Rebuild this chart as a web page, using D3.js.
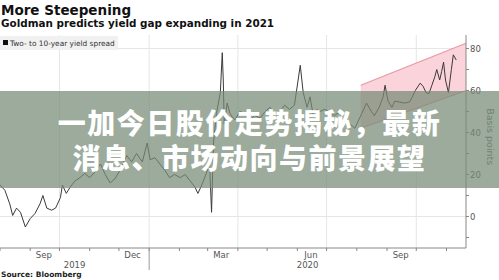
<!DOCTYPE html>
<html>
<head>
<meta charset="utf-8">
<script src="https://cdn.jsdelivr.net/npm/d3@7"></script>
<style>
  html, body { margin: 0; padding: 0; background: #fff; }
  svg { display: block; }
</style>
</head>
<body>
<div id="chart"></div>
<script>
// two- to ten-year spread, basis points
var dates = [
  "2019-08-01","2019-08-06","2019-08-11","2019-08-14","2019-08-18","2019-08-22","2019-08-27",
  "2019-09-01","2019-09-06","2019-09-11","2019-09-14","2019-09-18","2019-09-23","2019-09-27",
  "2019-10-02","2019-10-04","2019-10-08","2019-10-12","2019-10-17","2019-10-22","2019-10-27",
  "2019-11-01","2019-11-06","2019-11-12","2019-11-17","2019-11-22","2019-11-27",
  "2019-12-02","2019-12-09","2019-12-14","2019-12-19","2019-12-25","2019-12-30",
  "2020-01-02","2020-01-07","2020-01-12","2020-01-17","2020-01-22","2020-01-27",
  "2020-02-02","2020-02-07","2020-02-12","2020-02-17","2020-02-20","2020-02-23","2020-02-27",
  "2020-03-03","2020-03-05","2020-03-07","2020-03-10","2020-03-14","2020-03-16","2020-03-17","2020-03-18",
  "2020-03-21","2020-03-24","2020-03-27","2020-03-29",
  "2020-04-03","2020-04-08","2020-04-13","2020-04-18","2020-04-24","2020-04-29",
  "2020-05-04","2020-05-09","2020-05-14","2020-05-19","2020-05-24","2020-05-29",
  "2020-06-04","2020-06-07","2020-06-11","2020-06-14","2020-06-17","2020-06-21","2020-06-24","2020-06-29",
  "2020-07-04","2020-07-09","2020-07-15","2020-07-20","2020-07-25","2020-07-30",
  "2020-08-02","2020-08-06","2020-08-11","2020-08-16","2020-08-19","2020-08-24","2020-08-28","2020-08-30",
  "2020-09-02","2020-09-06","2020-09-09","2020-09-14","2020-09-19","2020-09-24","2020-09-27","2020-09-30",
  "2020-10-05","2020-10-08","2020-10-11","2020-10-14","2020-10-17","2020-10-20","2020-10-22","2020-10-25",
  "2020-10-27","2020-10-29","2020-10-31","2020-11-03","2020-11-06","2020-11-08","2020-11-11"
];
var spread = [
  15, 12.5, 6, 0.5, 4, 2, -5,
  -1, 1.5, 6, 10, 4, 3, 4,
  9, 15, 11, 14, 17, 18.5, 20.5,
  18.5, 21, 25, 20, 16, 18,
  22, 29, 26, 30, 26, 35,
  27, 28, 25, 22, 18.5, 20,
  18.5, 20, 17, 14, 11, 14, 18.5,
  25, 2, 35, 49, 59, 78, 65, 44,
  54, 49, 47, 46,
  50, 49, 46, 48, 47, 50,
  52, 49, 50, 53, 51, 53,
  72, 59, 52, 57, 49, 51, 50, 51,
  50, 48, 50, 49, 44, 42,
  45, 49, 54, 50, 48, 52, 57, 62.5,
  55, 52, 55, 54.5, 54, 54.5, 57, 60,
  63.5, 62, 59, 58.5, 62.5, 66.5, 70, 65,
  69, 73.5, 65, 59, 70, 77, 74.5
];

// Goldman's projected channel
var channelDates = ["2020-08-05", "2020-11-21"];
var channelUpper = [62.5, 82.5];
var channelLower = [42, 60];

var yTicks = [0, 20, 40, 60, 80];
var yMinor = [-10, 10, 30, 50, 70];
var monthLabels = ["2019-09-15", "2019-12-15", "2020-03-15", "2020-06-15", "2020-09-15"];
var yearLabels = ["2019", "2020"];

var width = 499, height = 280;
var plotLeft = 0, plotRight = 466, plotTop = 35, plotBottom = 248;
var parse = d3.timeParse("%Y-%m-%d");

var svg = d3.select("#chart").append("svg")
    .attr("width", width)
    .attr("height", height)
    .style("font-family", "'DejaVu Sans', Verdana, sans-serif");

var x = d3.scaleTime()
    .domain([parse("2019-08-01"), parse("2020-11-21")])
    .range([plotLeft, plotRight]);
var y = d3.scaleLinear()
    .domain([0, 80])
    .range([216.5, 48.5]);

// titles
svg.append("text").attr("x", 1).attr("y", 15)
    .style("font-size", "13.5px").style("font-weight", "bold").attr("fill", "#111")
    .text("More Steepening");
svg.append("text").attr("x", 1).attr("y", 27)
    .style("font-size", "10.4px").style("font-weight", "bold").attr("fill", "#111")
    .text("Goldman predicts yield gap expanding in 2021");

// grid
var grid = svg.append("g");
grid.selectAll("line.h")
    .data([0, 80])
    .enter().append("line")
    .attr("x1", plotLeft).attr("x2", plotRight)
    .attr("y1", d => y(d)).attr("y2", d => y(d))
    .style("stroke", "#e6e6e6").style("stroke-width", 1);
grid.selectAll("line.v")
    .data(d3.timeMonths(x.domain()[0], x.domain()[1]).filter(d => d.getMonth() % 3 == 0))
    .enter().append("line")
    .attr("x1", d => x(d)).attr("x2", d => x(d))
    .attr("y1", plotTop).attr("y2", plotBottom)
    .style("stroke", "#e6e6e6").style("stroke-width", 1);

// legend
svg.append("rect").attr("x", 0).attr("y", 36).attr("width", 118).attr("height", 14)
    .attr("fill", "#f1f1f1");
svg.append("rect").attr("x", 3).attr("y", 40).attr("width", 5).attr("height", 5)
    .attr("fill", "#111");
svg.append("text").attr("x", 10).attr("y", 46)
    .style("font-size", "7.4px").attr("fill", "#333")
    .text("Two- to 10-year yield spread");

// channel
var channel = channelDates.map(function (d, i) {
    return { date: parse(d), hi: channelUpper[i], lo: channelLower[i] };
});
svg.append("path")
    .datum(channel)
    .attr("d", d3.area().x(d => x(d.date)).y0(d => y(d.lo)).y1(d => y(d.hi)))
    .attr("fill", "#fbd3da");
svg.append("path")
    .datum(channel)
    .attr("d", d3.line().x(d => x(d.date)).y(d => y(d.hi)))
    .attr("fill", "none").style("stroke", "#ea97a6").style("stroke-width", 1.2);
svg.append("path")
    .datum(channel)
    .attr("d", d3.line().x(d => x(d.date)).y(d => y(d.lo)))
    .attr("fill", "none").style("stroke", "#ea97a6").style("stroke-width", 1.2);

// series
var series = dates.map(function (d, i) { return { date: parse(d), v: spread[i] }; });
svg.append("clipPath").attr("id", "clip")
    .append("rect").attr("x", plotLeft).attr("y", plotTop)
    .attr("width", plotRight - plotLeft).attr("height", plotBottom - plotTop);
svg.append("path")
    .datum(series)
    .attr("clip-path", "url(#clip)")
    .attr("d", d3.line().x(d => x(d.date)).y(d => y(d.v)))
    .attr("fill", "none")
    .style("stroke", "#3a3a3a")
    .style("stroke-width", 1);

// right axis
var yAxis = svg.append("g").attr("transform", "translate(" + plotRight + ",0)");
yAxis.append("line").attr("y1", plotTop).attr("y2", plotBottom).style("stroke", "#888");
yAxis.selectAll("line.t")
    .data(yTicks.concat(yMinor))
    .enter().append("line")
    .attr("x1", 0).attr("x2", 3)
    .attr("y1", d => y(d)).attr("y2", d => y(d))
    .style("stroke", "#888");
yAxis.selectAll("text")
    .data(yTicks)
    .enter().append("text")
    .attr("x", 4).attr("y", d => y(d) + 3)
    .style("font-size", "8.5px").attr("fill", "#555")
    .text(d => d);
svg.append("text")
    .attr("transform", "translate(487," + y(38) + ") rotate(90)")
    .style("font-size", "9.5px").attr("fill", "#666")
    .style("text-anchor", "middle")
    .text("Basis points");

// bottom axis
var xAxis = svg.append("g");
xAxis.append("line").attr("x1", plotLeft).attr("x2", plotRight)
    .attr("y1", plotBottom).attr("y2", plotBottom)
    .style("stroke", "#888");
xAxis.selectAll("line.m")
    .data(d3.timeMonths(x.domain()[0], x.domain()[1]))
    .enter().append("line")
    .attr("x1", d => x(d)).attr("x2", d => x(d))
    .attr("y1", plotBottom).attr("y2", plotBottom + 3)
    .style("stroke", "#888");
xAxis.selectAll("text.m")
    .data(monthLabels)
    .enter().append("text")
    .attr("x", d => x(parse(d))).attr("y", plotBottom + 10)
    .style("font-size", "8.5px").attr("fill", "#555")
    .style("text-anchor", "middle")
    .text(d => d3.timeFormat("%b")(parse(d)));
var jan = parse("2020-01-01");
xAxis.append("line").attr("x1", x(jan)).attr("x2", x(jan))
    .attr("y1", plotBottom).attr("y2", plotBottom + 22)
    .style("stroke", "#999");
xAxis.selectAll("text.y")
    .data(yearLabels)
    .enter().append("text")
    .attr("x", (d, i) => i == 0 ? (x(jan) + plotLeft) / 2 : (x(jan) + plotRight) / 2)
    .attr("y", plotBottom + 20)
    .style("font-size", "8.5px").attr("fill", "#555")
    .style("text-anchor", "middle")
    .text(d => d);

svg.append("text").attr("x", 1).attr("y", 277)
    .style("font-size", "7.5px").style("font-weight", "bold").attr("fill", "#222")
    .text("Source: Bloomberg");

// headline banner over the chart
svg.append("rect").attr("x", 0).attr("y", 91).attr("width", width).attr("height", 97)
    .attr("fill", "rgba(118,138,118,0.72)");
var banner = ["一加今日股价走势揭秘，最新", "消息、市场动向与前景展望"];
svg.selectAll("text.banner")
    .data(banner)
    .enter().append("text")
    .attr("x", width / 2)
    .attr("y", (d, i) => 134 + i * 35)
    .style("font-family", "'Noto Sans CJK SC', sans-serif")
    .style("font-size", "28px").style("font-weight", "900")
    .style("letter-spacing", "1.5px")
    .style("text-anchor", "middle")
    .attr("fill", "#fff")
    .text(d => d);
</script>
</body>
</html>
